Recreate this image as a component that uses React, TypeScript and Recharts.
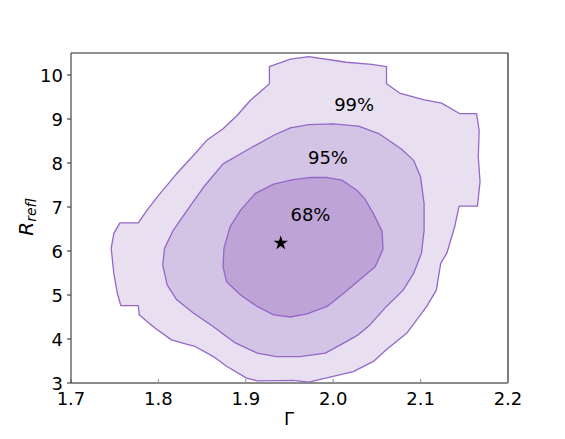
import { ComposedChart, ReferenceLine, Scatter, XAxis, YAxis, ZAxis } from "recharts";

type Pt = { x: number; y: number };

// contour outlines (Γ, R_refl)
const contour99: Pt[] = [
  { x: 1.927, y: 10.19 }, { x: 1.951, y: 10.36 }, { x: 1.972, y: 10.42 }, { x: 2.015, y: 10.29 },
  { x: 2.044, y: 10.24 }, { x: 2.061, y: 10.19 }, { x: 2.061, y: 9.8 }, { x: 2.076, y: 9.59 },
  { x: 2.103, y: 9.44 }, { x: 2.124, y: 9.36 }, { x: 2.145, y: 9.12 }, { x: 2.164, y: 9.12 },
  { x: 2.167, y: 8.74 }, { x: 2.166, y: 8.14 }, { x: 2.168, y: 7.57 }, { x: 2.165, y: 7.02 },
  { x: 2.144, y: 7.02 }, { x: 2.139, y: 6.55 }, { x: 2.13, y: 5.95 }, { x: 2.123, y: 5.72 },
  { x: 2.118, y: 5.11 }, { x: 2.107, y: 4.74 }, { x: 2.084, y: 4.13 }, { x: 2.061, y: 3.76 },
  { x: 2.046, y: 3.49 }, { x: 2.023, y: 3.26 }, { x: 2.0, y: 3.15 }, { x: 1.972, y: 3.02 },
  { x: 1.954, y: 3.06 }, { x: 1.913, y: 3.05 }, { x: 1.901, y: 3.11 }, { x: 1.878, y: 3.38 },
  { x: 1.863, y: 3.6 }, { x: 1.842, y: 3.83 }, { x: 1.833, y: 3.88 }, { x: 1.815, y: 3.98 },
  { x: 1.796, y: 4.25 }, { x: 1.785, y: 4.43 }, { x: 1.778, y: 4.55 }, { x: 1.777, y: 4.76 },
  { x: 1.757, y: 4.76 }, { x: 1.753, y: 5.04 }, { x: 1.749, y: 5.49 }, { x: 1.746, y: 6.06 },
  { x: 1.749, y: 6.4 }, { x: 1.756, y: 6.64 }, { x: 1.777, y: 6.64 }, { x: 1.787, y: 6.93 },
  { x: 1.802, y: 7.31 }, { x: 1.821, y: 7.76 }, { x: 1.84, y: 8.17 }, { x: 1.855, y: 8.51 },
  { x: 1.874, y: 8.78 }, { x: 1.89, y: 9.08 }, { x: 1.905, y: 9.42 }, { x: 1.916, y: 9.61 },
  { x: 1.927, y: 9.8 },
];

const contour95: Pt[] = [
  { x: 1.972, y: 8.87 }, { x: 2.0, y: 8.89 }, { x: 2.029, y: 8.84 }, { x: 2.053, y: 8.66 },
  { x: 2.078, y: 8.32 }, { x: 2.092, y: 8.06 }, { x: 2.1, y: 7.68 }, { x: 2.104, y: 7.08 },
  { x: 2.104, y: 6.47 }, { x: 2.101, y: 5.95 }, { x: 2.092, y: 5.49 }, { x: 2.08, y: 5.11 },
  { x: 2.061, y: 4.74 }, { x: 2.042, y: 4.32 }, { x: 2.029, y: 4.1 }, { x: 2.015, y: 3.94 },
  { x: 1.991, y: 3.68 }, { x: 1.962, y: 3.6 }, { x: 1.935, y: 3.6 }, { x: 1.913, y: 3.68 },
  { x: 1.888, y: 3.91 }, { x: 1.863, y: 4.28 }, { x: 1.84, y: 4.59 }, { x: 1.821, y: 4.89 },
  { x: 1.81, y: 5.23 }, { x: 1.805, y: 5.68 }, { x: 1.807, y: 6.06 }, { x: 1.817, y: 6.47 },
  { x: 1.833, y: 6.93 }, { x: 1.852, y: 7.46 }, { x: 1.874, y: 7.98 }, { x: 1.901, y: 8.29 },
  { x: 1.932, y: 8.63 }, { x: 1.951, y: 8.8 },
];

const contour68: Pt[] = [
  { x: 1.973, y: 7.67 }, { x: 1.993, y: 7.67 }, { x: 2.01, y: 7.61 }, { x: 2.027, y: 7.38 },
  { x: 2.036, y: 7.19 }, { x: 2.046, y: 6.85 }, { x: 2.056, y: 6.44 }, { x: 2.057, y: 6.04 },
  { x: 2.048, y: 5.64 }, { x: 2.031, y: 5.36 }, { x: 2.012, y: 5.04 }, { x: 1.993, y: 4.74 },
  { x: 1.97, y: 4.57 }, { x: 1.951, y: 4.5 }, { x: 1.932, y: 4.55 }, { x: 1.913, y: 4.74 },
  { x: 1.894, y: 5.0 }, { x: 1.878, y: 5.3 }, { x: 1.874, y: 5.64 }, { x: 1.875, y: 6.06 },
  { x: 1.882, y: 6.55 }, { x: 1.894, y: 6.93 }, { x: 1.911, y: 7.31 }, { x: 1.932, y: 7.52 },
  { x: 1.954, y: 7.62 },
];

const bestFit: Pt[] = [{ x: 1.94, y: 6.18 }];

const levelLabels = [
  { x: 2.024, y: 9.34, text: "99%" },
  { x: 1.994, y: 8.14, text: "95%" },
  { x: 1.974, y: 6.85, text: "68%" },
];

const xTicks = [1.7, 1.8, 1.9, 2.0, 2.1, 2.2];
const yTicks = [3, 4, 5, 6, 7, 8, 9, 10];

const FONT = "DejaVu Sans, sans-serif";
const EDGE = "#9467c8";

const polygon = (fill: string) => (props: any) => {
  const pts: { x: number; y: number }[] = props.points || [];
  const d = pts.map((p, i) => `${i ? "L" : "M"}${p.x},${p.y}`).join(" ") + " Z";
  return <path d={d} fill={fill} stroke={EDGE} strokeWidth={1.3} strokeLinejoin="round" />;
};

const noDot = () => <g />;

const XTick = (props: any) => (
  <text x={props.x} y={props.y + 22} textAnchor="middle" fontSize={18} fontFamily={FONT} fill="#000">
    {Number(props.payload.value).toFixed(1)}
  </text>
);

const YTick = (props: any) => (
  <text x={props.x} y={props.y + 7} textAnchor="end" fontSize={18} fontFamily={FONT} fill="#000">
    {props.payload.value}
  </text>
);

const LevelText = (props: any) => (
  <text x={props.cx} y={props.cy + 7} textAnchor="middle" fontSize={18} fontFamily={FONT} fill="#000">
    {props.payload.text}
  </text>
);

export default function App() {
  return (
    <div style={{ position: "absolute", left: 0, top: 0, background: "#fff" }}>
      <ComposedChart width={565} height={439} margin={{ top: 53, right: 57, bottom: 0, left: 0 }}>
        <XAxis
          type="number"
          dataKey="x"
          domain={[1.7, 2.2]}
          ticks={xTicks}
          height={56}
          allowDataOverflow
          tickSize={-4}
          tickMargin={4}
          tick={<XTick />}
          axisLine={{ stroke: "#8c8c8c", strokeWidth: 2 }}
          tickLine={{ stroke: "#8c8c8c" }}
          label={{
            content: () => (
              <text x={289} y={425} textAnchor="middle" fontSize={18} fontFamily={FONT} fill="#000">
                Γ
              </text>
            ),
          }}
        />
        <YAxis
          type="number"
          dataKey="y"
          domain={[3, 10.5]}
          ticks={yTicks}
          width={71}
          allowDataOverflow
          tickSize={4}
          tickMargin={4}
          tick={<YTick />}
          axisLine={{ stroke: "#222" }}
          tickLine={{ stroke: "#222" }}
          label={{
            content: () => (
              <text transform="translate(33,217) rotate(-90)" textAnchor="middle" fontFamily={FONT} fill="#000">
                <tspan fontSize={20} fontStyle="italic">R</tspan>
                <tspan fontSize={14} fontStyle="italic" dy={3}>refl</tspan>
              </text>
            ),
          }}
        />
        <ZAxis range={[60, 60]} />
        <Scatter data={contour99} line={polygon("#e8e0f1")} shape={noDot} isAnimationActive={false} />
        <Scatter data={contour95} line={polygon("#d3c3e4")} shape={noDot} isAnimationActive={false} />
        <Scatter data={contour68} line={polygon("#bea4d6")} shape={noDot} isAnimationActive={false} />
        <Scatter data={bestFit} shape="star" fill="#000" isAnimationActive={false} />
        <Scatter data={levelLabels} shape={<LevelText />} isAnimationActive={false} />
        <ReferenceLine y={10.5} stroke="#222" strokeWidth={1.2} />
        <ReferenceLine x={2.2} stroke="#222" strokeWidth={1.2} />
      </ComposedChart>
    </div>
  );
}
